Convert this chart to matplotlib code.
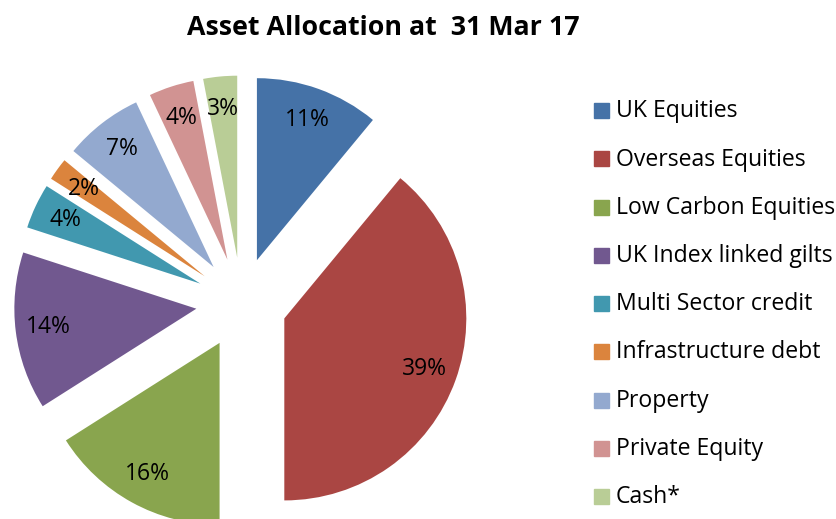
import matplotlib
matplotlib.use("Agg")
import matplotlib.pyplot as plt
from matplotlib.patches import Rectangle

categories = [
    "UK Equities",
    "Overseas Equities",
    "Low Carbon Equities",
    "UK Index linked gilts",
    "Multi Sector credit",
    "Infrastructure debt",
    "Property",
    "Private Equity",
    "Cash*",
]
shares = [11, 39, 16, 14, 4, 2, 7, 4, 3]
colors = ["#4572A7", "#AA4643", "#89A54E", "#71588F", "#4198AF",
          "#DB843D", "#93A9CF", "#D19392", "#B9CD96"]
title = "Asset Allocation at  31 Mar 17"

plt.rcParams["font.family"] = ["Open Sans", "DejaVu Sans"]

W, H = 837, 519
fig = plt.figure(figsize=(W / 100, H / 100), dpi=100)

# pie centre and radius in pixels
cx, cy, R = 241.5, 303, 182
ax_w = 480
ax = fig.add_axes([0, 0, ax_w / W, 1])
wedges, texts, autotexts = ax.pie(
    shares,
    colors=colors,
    explode=[0.25] * len(shares),
    startangle=90,
    counterclock=False,
    autopct=lambda p: f"{p:.0f}%",
    pctdistance=0.82,
    textprops={"fontsize": 16.5, "color": "black"},
)
ax.set_xlim(-cx / R, (ax_w - cx) / R)
ax.set_ylim(-(H - cy) / R, cy / R)
ax.set_aspect("auto")
ax.axis("off")

fig.text(383 / W, 1 - 35 / H, title, ha="center", va="baseline",
         fontsize=19.3, fontweight="bold")

# legend
base0, step = 117.3, 48.2
for i, (name, col) in enumerate(zip(categories, colors)):
    yb = base0 + i * step
    fig.patches.append(Rectangle((594 / W, 1 - (yb + 1) / H), 15 / W, 15 / H,
                                 transform=fig.transFigure, color=col))
    fig.text(616 / W, 1 - yb / H, name, ha="left", va="baseline", fontsize=16.6)

fig.savefig("out.png", dpi=100)
